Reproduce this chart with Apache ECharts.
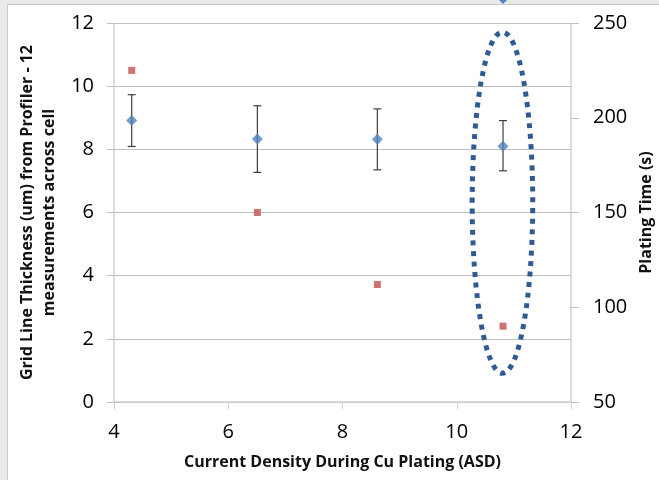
<!DOCTYPE html>
<html>
<head>
<meta charset="utf-8">
<script src="https://cdn.jsdelivr.net/npm/echarts@6/dist/echarts.min.js"></script>
<style>
  html, body { margin: 0; padding: 0; background: #e9e9e9; }
  #chart { width: 659px; height: 480px; }
</style>
</head>
<body>
<div id="chart"></div>
<script>
  // current density (ASD)
  const density = [4.31, 6.51, 8.61, 10.81]
  // grid line thickness (um) and error bar ends
  const thickness = [8.91, 8.33, 8.32, 8.10]
  const errLow = [8.09, 7.27, 7.35, 7.32]
  const errHigh = [9.73, 9.38, 9.28, 8.91]
  // plating time (s), right axis
  const platingTime = [225, 150, 112, 90]
  // highlight ellipse: centre and half-widths in data units
  const ellipseCentre = [10.8, 6.31]
  const ellipseRadius = [0.53, 5.4]

  const tickFont = { fontFamily: 'Open Sans', fontSize: 20, color: '#000000' }
  const titleFont = { fontFamily: 'Open Sans', fontWeight: 'bold', fontSize: 16, color: '#111111' }

  const chart = echarts.init(document.getElementById('chart'))

  const option = {
    backgroundColor: '#e9e9e9',
    animation: false,
    graphic: [
      {
        type: 'rect', z: -10, silent: true,
        shape: { x: 7.5, y: 4.5, width: 660, height: 480 },
        style: { fill: '#ffffff', stroke: '#c9c9c9', lineWidth: 1 }
      },
      {
        type: 'polygon', z: -5, silent: true,
        shape: { points: [[499, 0], [507, 0], [503, 4]] },
        style: { fill: '#4f81bd' }
      }
    ],
    grid: { left: 114, right: 88, top: 23, bottom: 78, containLabel: false, outerBoundsMode: 'none' },
    xAxis: {
      type: 'value', min: 4, max: 12, interval: 2,
      name: 'Current Density During Cu Plating (ASD)',
      nameLocation: 'middle', nameGap: 52,
      nameTextStyle: titleFont,
      axisLine: { show: true, lineStyle: { color: '#d0d0d0', width: 1.5 } },
      axisTick: { show: true, inside: false, length: 7, lineStyle: { color: '#d0d0d0' } },
      axisLabel: Object.assign({ margin: 20 }, tickFont),
      splitLine: { show: false }
    },
    yAxis: [
      {
        type: 'value', min: 0, max: 12, interval: 2, position: 'left',
        name: 'Grid Line Thickness (um) from Profiler - 12\nmeasurements across cell',
        nameLocation: 'middle', nameGap: 47, nameRotate: 90,
        nameTextStyle: Object.assign({ lineHeight: 22 }, titleFont),
        axisLine: { show: true, lineStyle: { color: '#d0d0d0', width: 1.5 } },
        axisTick: { show: true, inside: false, length: 7, lineStyle: { color: '#bfbfbf' } },
        axisLabel: Object.assign({ margin: 20 }, tickFont),
        splitLine: { show: true, lineStyle: { color: '#bfbfbf', width: 1 } }
      },
      {
        type: 'value', min: 50, max: 250, interval: 50, position: 'right',
        name: 'Plating Time (s)',
        nameLocation: 'middle', nameGap: 65, nameRotate: 90,
        nameTextStyle: titleFont,
        axisLine: { show: true, lineStyle: { color: '#d0d0d0', width: 1.5 } },
        axisTick: { show: true, inside: false, length: 8, lineStyle: { color: '#bfbfbf' } },
        axisLabel: Object.assign({ margin: 22 }, tickFont),
        splitLine: { show: false }
      }
    ],
    series: [
      {
        name: 'error',
        type: 'custom',
        yAxisIndex: 0,
        data: density.map((x, i) => [x, errLow[i], errHigh[i]]),
        encode: { x: 0, y: [1, 2] },
        renderItem: (params, api) => {
          const lo = api.coord([api.value(0), api.value(1)])
          const hi = api.coord([api.value(0), api.value(2)])
          const cap = 4
          const style = { stroke: '#3f3f3f', lineWidth: 1.2 }
          return {
            type: 'group',
            children: [
              { type: 'line', shape: { x1: lo[0], y1: lo[1], x2: hi[0], y2: hi[1] }, style },
              { type: 'line', shape: { x1: lo[0] - cap, y1: lo[1], x2: lo[0] + cap, y2: lo[1] }, style },
              { type: 'line', shape: { x1: hi[0] - cap, y1: hi[1], x2: hi[0] + cap, y2: hi[1] }, style }
            ]
          }
        },
        z: 2
      },
      {
        name: 'thickness',
        type: 'scatter',
        yAxisIndex: 0,
        symbol: 'diamond',
        symbolSize: 11,
        itemStyle: { color: '#4f81bd' },
        data: density.map((x, i) => [x, thickness[i]]),
        z: 3
      },
      {
        name: 'time',
        type: 'scatter',
        yAxisIndex: 1,
        symbol: 'rect',
        symbolSize: 7,
        itemStyle: { color: '#c0504d' },
        data: density.map((x, i) => [x, platingTime[i]]),
        z: 3
      },
      {
        name: 'highlight',
        type: 'custom',
        yAxisIndex: 0,
        data: [[ellipseCentre[0], ellipseCentre[1], ellipseRadius[0], ellipseRadius[1]]],
        encode: { x: 0, y: 1 },
        renderItem: (params, api) => {
          const c = api.coord([api.value(0), api.value(1)])
          const r = api.size([api.value(2), api.value(3)])
          return {
            type: 'ellipse',
            shape: { cx: c[0], cy: c[1], rx: r[0], ry: r[1] },
            style: { fill: 'none', stroke: '#2f5b94', lineWidth: 5, lineDash: [5, 5.6] }
          }
        },
        z: 4
      }
    ]
  }

  chart.setOption(option)
</script>
</body>
</html>
